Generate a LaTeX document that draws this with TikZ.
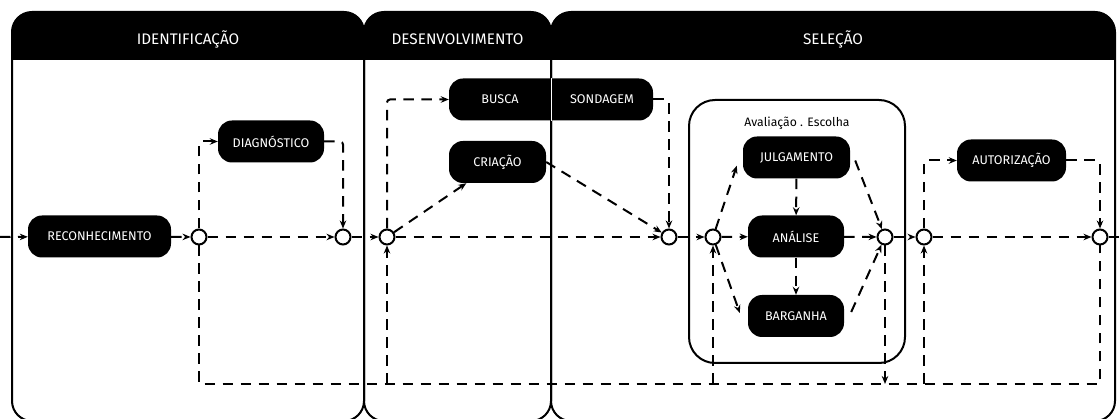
\documentclass[tikz,border=0pt]{standalone}
\usepackage{fontspec}
\setmainfont{Fira Sans}
\usetikzlibrary{arrows.meta,calc}
\begin{document}
\begin{tikzpicture}[x=1pt,y=-1pt]
 \tikzset{
  flow/.style={line width=2pt, dash pattern=on 10.5pt off 7.5pt},
  directed/.style={flow, -{Stealth[length=8pt,width=6.5pt]}},
  act/.style={fill=black, text=white, rounded corners=14pt, minimum height=42pt, inner sep=0pt, font=\fontsize{12.6}{13}\selectfont},
  junc/.style={draw, circle, line width=2pt, fill=white, minimum size=15pt, inner sep=0pt},
  lane/.style={line width=2pt, rounded corners=20pt},
  head/.style={text=white, font=\fontsize{15.3}{17}\selectfont}
 }
 \useasboundingbox (0,0) rectangle (1119,419);
 % lanes
 \foreach \xa/\xb/\name in {12/364/IDENTIFICAÇÃO, 364/551/DESENVOLVIMENTO, 551/1115/SELEÇÃO} {
   \begin{scope}
    \clip (\xa,0) rectangle (\xb,60);
    \fill[rounded corners=20pt] (\xa,12) rectangle (\xb,421);
   \end{scope}
   \draw[lane] (\xa,12) rectangle (\xb,421);
   \node[head] at ({(\xa+\xb)/2},39) {\name};
 }
 \node[draw, line width=2pt, rounded corners=26pt, minimum width=216pt, minimum height=263pt] (AVAL) at (797,231.5) {};
 \node[font=\fontsize{12.2}{13}\selectfont] (AVALT) at (797,123) {Avaliação . Escolha};
 % activities
 \node[act, minimum width=143pt] (RECO) at (99.5,236.5) {RECONHECIMENTO};
 \node[act, minimum width=106pt] (DIAG) at (271,141.5) {DIAGNÓSTICO};
 \node[act, minimum width=204pt] (BUSCA) at (551,99.5) {};
 \node[act, fill=none] (BUSCAT) at (500,99.5) {BUSCA};
 \node[act, fill=none] (SOND) at (602,99.5) {SONDAGEM};
 \draw[white, line width=1pt] (BUSCA.north) -- (BUSCA.south);
 \node[act, minimum width=97pt] (CRIA) at (497.5,162) {CRIAÇÃO};
 \node[act, minimum width=107pt] (JULG) at (796.5,157.5) {JULGAMENTO};
 \node[act, minimum width=96pt] (ANAL) at (796,236.5) {ANÁLISE};
 \node[act, minimum width=96pt] (BARG) at (796,316) {BARGANHA};
 \node[act, minimum width=109pt] (AUTO) at (1011.5,160.5) {AUTORIZAÇÃO};
 % junctions
 \foreach \n/\x in {J1/199,J2/343,J3/387,J4/669,J5/713,J6/885,J7/924,J8/1100}
   \node[junc] (\n) at (\x,237) {};
 \coordinate (IN) at (0,237);
 \coordinate (OUT) at (1119,237);
 \coordinate (FBL) at (199,384);
 \coordinate (FBR) at (1100,384);
 % main line
 \draw[directed] (IN) -- (RECO);
 \draw[directed] (RECO) -- (J1);
 \draw[directed] (J1) -- (J2);
 \draw[directed] (J2) -- (J3);
 \draw[directed] (J3) -- (J4);
 \draw[directed] (J4) -- (J5);
 \draw[directed] (J5) -- (ANAL);
 \draw[directed] (ANAL) -- (J6);
 \draw[directed] (J6) -- (J7);
 \draw[directed] (J7) -- (J8);
 \draw[flow] (J8) -- (OUT);
 % branches
 \draw[directed, rounded corners=3pt] (J1) |- (DIAG);
 \draw[directed, rounded corners=3pt] (DIAG) -| (J2);
 \draw[directed, rounded corners=3pt] (J3) |- (BUSCA);
 \draw[directed, rounded corners=3pt] (BUSCA) -| (J4);
 \draw[directed] (J3) -- (CRIA);
 \draw[directed] (CRIA.east) -- (J4);
 \draw[directed] (J5) -- ($(JULG.south west)+(-6,-13)$);
 \draw[directed] (J5) -- ($(BARG.west)+(-8,-3)$);
 \draw[directed] (JULG) -- (ANAL);
 \draw[directed] (ANAL) -- (BARG);
 \draw[directed] ($(JULG.east)+(5,3)$) -- (J6);
 \draw[directed] ($(BARG.east)+(7,-4)$) -- (J6);
 \draw[directed, rounded corners=3pt] (J7) |- (AUTO);
 \draw[directed, rounded corners=3pt] (AUTO) -| (J8);
 % return path
 \draw[flow] (J1) -- (FBL) -- (FBR) -- (J8);
 \draw[directed] (J3 |- FBL) -- (J3);
 \draw[directed] (J5 |- FBL) -- (J5);
 \draw[directed] (J7 |- FBL) -- (J7);
 \draw[directed] (J6) -- (J6 |- FBL);
\end{tikzpicture}
\end{document}
